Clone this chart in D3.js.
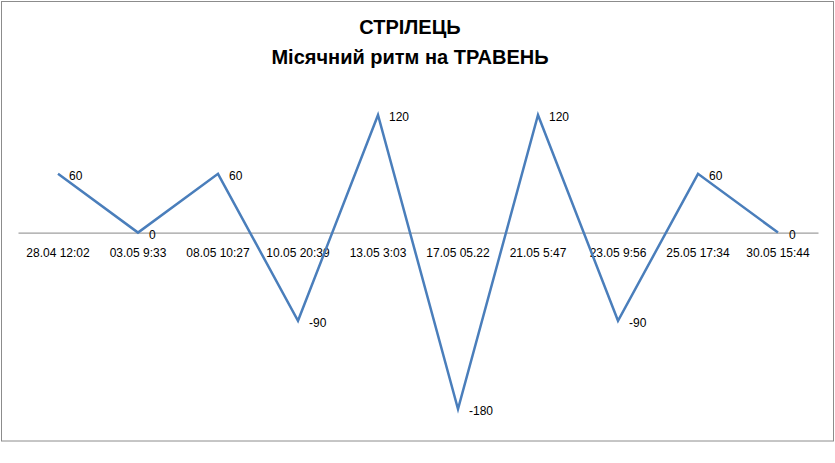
<!DOCTYPE html>
<html><head><meta charset="utf-8">
<script src="https://cdn.jsdelivr.net/npm/d3@7"></script>
<style>body{margin:0;background:#fff}svg{display:block}</style>
</head><body>
<svg id="chart" width="835" height="463"></svg>
<script>
const titleLines = ["СТРІЛЕЦЬ", "Місячний ритм на ТРАВЕНЬ"];
const categories = ["28.04 12:02","03.05 9:33","08.05 10:27","10.05 20:39","13.05 3:03","17.05 05.22","21.05 5:47","23.05 9:56","25.05 17:34","30.05 15:44"];
const values = [60, 0, 60, -90, 120, -180, 120, -90, 60, 0];

const svg = d3.select("#chart");
svg.append("rect").attr("x",1.5).attr("y",1.5).attr("width",832).attr("height",439.5)
  .attr("fill","#fff").attr("stroke","#8c8c8c").attr("stroke-width",1);

svg.selectAll("text.title").data(titleLines).enter().append("text")
  .attr("class","title").attr("x",410).attr("y",(d,i)=>34+i*30)
  .attr("text-anchor","middle").attr("font-family","Liberation Sans, Arial, sans-serif")
  .attr("font-weight","bold").attr("font-size",20).attr("fill","#000").text(d=>d);

const x = d3.scaleBand().domain(categories).range([18,818]);
const y = d3.scaleLinear().domain([-180,120]).range([409,115]);

const xAxis = svg.append("g").attr("transform",`translate(0,${y(0)})`)
  .call(d3.axisBottom(x).tickSize(0).tickPadding(16));
xAxis.select(".domain").attr("stroke","#868686");
xAxis.selectAll("text").attr("font-family","Liberation Sans, Arial, sans-serif").attr("font-size",12).attr("fill","#000");

const line = d3.line().x((d,i)=>x(categories[i])+x.bandwidth()/2).y(d=>y(d));
svg.append("path").datum(values).attr("d",line).attr("fill","none")
  .attr("stroke","#4a7ebb").attr("stroke-width",2.5).attr("stroke-linejoin","miter");

svg.selectAll("text.lbl").data(values).enter().append("text").attr("class","lbl")
  .attr("x",(d,i)=>x(categories[i])+x.bandwidth()/2+11)
  .attr("y",d=>y(d)).attr("dy","0.5em")
  .attr("font-family","Liberation Sans, Arial, sans-serif").attr("font-size",12).attr("fill","#000")
  .text(d=>d);
</script>
</body></html>
